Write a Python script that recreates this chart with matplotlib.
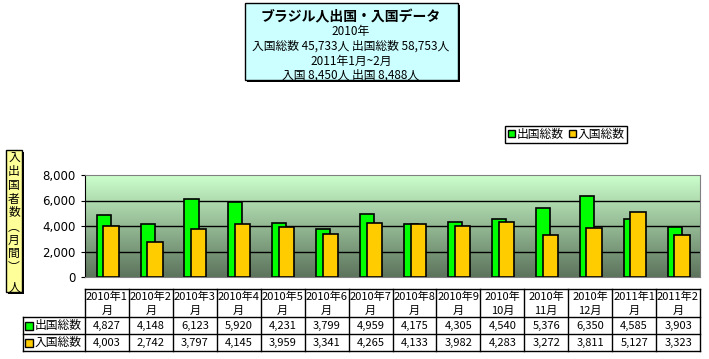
import numpy as np
import matplotlib.pyplot as plt
from matplotlib.patches import Rectangle
from matplotlib.colors import LinearSegmentedColormap

plt.rcParams['font.family'] = ['Noto Sans CJK JP', 'DejaVu Sans']

months = ['2010年1\n月', '2010年2\n月', '2010年3\n月', '2010年4\n月', '2010年5\n月',
          '2010年6\n月', '2010年7\n月', '2010年8\n月', '2010年9\n月', '2010年\n10月',
          '2010年\n11月', '2010年\n12月', '2011年1\n月', '2011年2\n月']
outbound = [4827, 4148, 6123, 5920, 4231, 3799, 4959, 4175, 4305, 4540, 5376, 6350, 4585, 3903]
inbound = [4003, 2742, 3797, 4145, 3959, 3341, 4265, 4133, 3982, 4283, 3272, 3811, 5127, 3323]
series_names = ['出国総数', '入国総数']
colors = ['#00FF00', '#FFCC00']
title_lines = ['2010年', '入国総数 45,733人 出国総数 58,753人', '2011年1月~2月', '入国 8,450人 出国 8,488人']

W, H = 709, 359
fig = plt.figure(figsize=(W / 100, H / 100), dpi=100)

# overlay in pixel coordinates for boxes and table
ov = fig.add_axes([0, 0, 1, 1])
ov.set_xlim(0, W)
ov.set_ylim(H, 0)
ov.axis('off')

# plot area
L, R, T, B = 85, 700, 175, 277
ax = fig.add_axes([L / W, 1 - B / H, (R - L) / W, (B - T) / H])
n = len(months)
x = np.arange(n)
grad = LinearSegmentedColormap.from_list('g', ['#5C735C', '#CCFFCC'])
ax.imshow(np.linspace(0, 1, 256).reshape(-1, 1), aspect='auto', cmap=grad,
          extent=(-0.5, n - 0.5, 0, 8000), origin='lower', zorder=0)
for g in [2000, 4000, 6000]:
    ax.axhline(g, color='black', lw=1, zorder=1)
ax.bar(x - 0.075, outbound, 0.32, color=colors[0], edgecolor='black', lw=1.2, zorder=2)
ax.bar(x + 0.09, inbound, 0.35, color=colors[1], edgecolor='black', lw=1.2, zorder=3)
ax.set_xlim(-0.5, n - 0.5)
ax.set_ylim(0, 8000)
ax.set_xticks([])
ax.set_yticks([0, 2000, 4000, 6000, 8000])
ax.set_yticklabels(['0', '2,000', '4,000', '6,000', '8,000'], fontsize=8.5, family='DejaVu Sans')
ax.tick_params(axis='y', length=3, pad=4)
for s in ['top', 'right', 'bottom']:
    ax.spines[s].set_color('#808080')
ax.spines['left'].set_color('black')

# data table
cw = (R - L) / n
rows = [289, 317, 334, 351]
tl = 23
ov.plot([L, R], [rows[0], rows[0]], color='black', lw=1)
for yy in rows[1:]:
    ov.plot([tl, R], [yy, yy], color='black', lw=1)
ov.plot([tl, tl], [rows[1], rows[3]], color='black', lw=1)
for i in range(n + 1):
    ov.plot([L + i * cw] * 2, [rows[0], rows[3]], color='black', lw=1)
for i, lab in enumerate(months):
    cx = L + (i + 0.5) * cw
    a, b = lab.split('\n')
    ov.text(cx, 297, a, ha='center', va='center', fontsize=8)
    ov.text(cx, 311, b, ha='center', va='center', fontsize=8)
    ov.text(cx, 326, f'{outbound[i]:,}', ha='center', va='center', fontsize=8)
    ov.text(cx, 343, f'{inbound[i]:,}', ha='center', va='center', fontsize=8)
for j, (nm, c) in enumerate(zip(series_names, colors)):
    yc = (rows[j + 1] + rows[j + 2]) / 2
    ov.add_patch(Rectangle((25, yc - 4), 8, 8, facecolor=c, edgecolor='black', lw=1))
    ov.text(35, yc, nm, ha='left', va='center', fontsize=8.5)

# legend
ov.add_patch(Rectangle((505, 126), 122, 17, facecolor='white', edgecolor='black', lw=1))
ov.add_patch(Rectangle((508, 130), 7, 7, facecolor=colors[0], edgecolor='black', lw=1))
ov.text(517, 134.5, series_names[0], ha='left', va='center', fontsize=8.5)
ov.add_patch(Rectangle((569, 130), 7, 7, facecolor=colors[1], edgecolor='black', lw=1))
ov.text(578, 134.5, series_names[1], ha='left', va='center', fontsize=8.5)

# title box
ov.add_patch(Rectangle((247, 5), 213, 77, facecolor='black', edgecolor='none'))
ov.add_patch(Rectangle((245, 3), 213, 77, facecolor='#CCFFFF', edgecolor='black', lw=1))
ov.text(351, 17, 'ブラジル人出国・入国データ', ha='center', va='center', fontsize=10, fontweight='bold')
for k, t in enumerate(title_lines):
    ov.text(351, 32 + k * 14.5, t, ha='center', va='center', fontsize=8.5)

# y axis title box
ov.add_patch(Rectangle((8, 152), 16, 142, facecolor='black', edgecolor='none'))
ov.add_patch(Rectangle((6, 150), 16, 142, facecolor='#FFFF99', edgecolor='black', lw=1))
ychars = ['入', '出', '国', '者', '数', '︵', '月', '間', '︶', '人']
ypos = [157, 171, 185, 199, 212, 227, 240, 253, 267, 287]
for ch, yy in zip(ychars, ypos):
    ov.text(14, yy, ch, ha='center', va='center', fontsize=8.5)

fig.savefig('out.png', dpi=100)
